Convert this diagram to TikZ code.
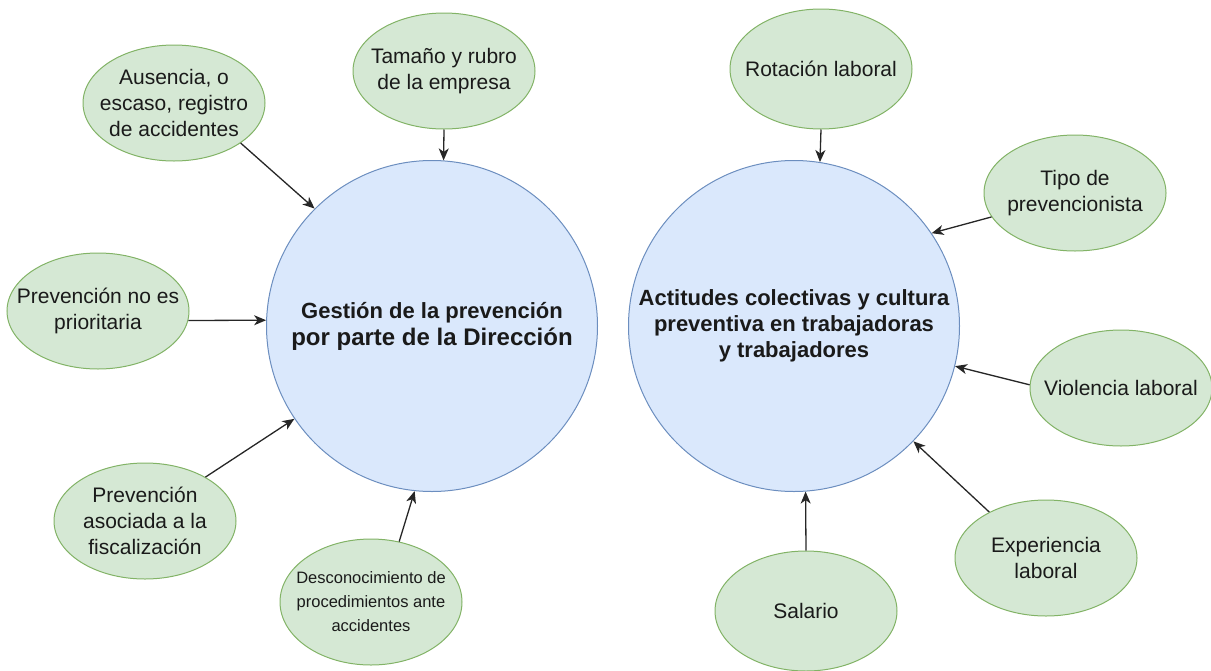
\documentclass[tikz,border=0pt]{standalone}
\usepackage{fontspec}
\setmainfont{Liberation Sans}
\usetikzlibrary{shapes.geometric,arrows.meta}
\definecolor{bfill}{HTML}{DAE8FC}
\definecolor{bdraw}{HTML}{6C8EBF}
\definecolor{gfill}{HTML}{D5E8D4}
\definecolor{gdraw}{HTML}{82B366}
\definecolor{txt}{HTML}{1A1A1A}
\tikzset{
  big/.style={circle,fill=bfill,draw=bdraw,line width=1pt,minimum size=331pt,inner sep=0pt,align=center,text=txt,font=\bfseries\fontsize{22}{26}\selectfont},
  factor/.style={ellipse,fill=gfill,draw=gdraw,line width=1pt,minimum width=182pt,minimum height=116pt,inner xsep=-40pt,inner ysep=0pt,align=center,text=txt,font=\fontsize{21}{26}\selectfont},
  arr/.style={-{Stealth[length=12pt,width=10pt,inset=3.5pt]},line width=1.3pt,draw=black!85}
}
\begin{document}
\begin{tikzpicture}[x=1pt,y=-1pt]
\useasboundingbox (0,0) rectangle (1211,670);
\node[big] (gestion) at (432,326) {Gestión de la prevención\\[1pt]{\fontsize{24}{28}\selectfont por parte de la Dirección}};
\node[big] (actitudes) at (794,326) {Actitudes colectivas y cultura\\preventiva en trabajadoras\\y trabajadores};
\node[factor] (ausencia) at (174,103) {Ausencia, o\\escaso, registro\\de accidentes};
\node[factor] (tamano) at (444,71) {Tamaño y rubro\\de la empresa};
\node[factor] (noprior) at (98,311) {Prevención no es\\prioritaria};
\node[factor] (asociada) at (145,521) {Prevención\\asociada a la\\fiscalización};
\node[factor,minimum height=126pt,font=\fontsize{16.5}{24}\selectfont] (descon) at (371,602) {Desconocimiento de\\procedimientos ante\\accidentes};
\node[factor,minimum height=120pt] (rotacion) at (821,69) {Rotación laboral};
\node[factor] (tipo) at (1075,193) {Tipo de\\prevencionista};
\node[factor] (violencia) at (1121,388) {Violencia laboral};
\node[factor] (experiencia) at (1046,558) {Experiencia\\laboral};
\node[factor,minimum height=120pt] (salario) at (806,611) {Salario};
\draw[arr] (ausencia.-31.4) -- (gestion.135.5);
\draw[arr] (tamano.-90) -- (gestion.86.9);
\draw[arr] (noprior.-6.7) -- (gestion.178.6);
\draw[arr] (asociada.36.4) -- (gestion.-146);
\draw[arr] (descon.65.7) -- (gestion.-96.4);
\draw[arr] (rotacion.-90) -- (actitudes.81.8);
\draw[arr] (tipo.-164) -- (actitudes.34.3);
\draw[arr] (violencia.178) -- (actitudes.-14);
\draw[arr] (experiencia.141.9) -- (actitudes.-44);
\draw[arr] (salario.90) -- (actitudes.-86.6);
\end{tikzpicture}
\end{document}
